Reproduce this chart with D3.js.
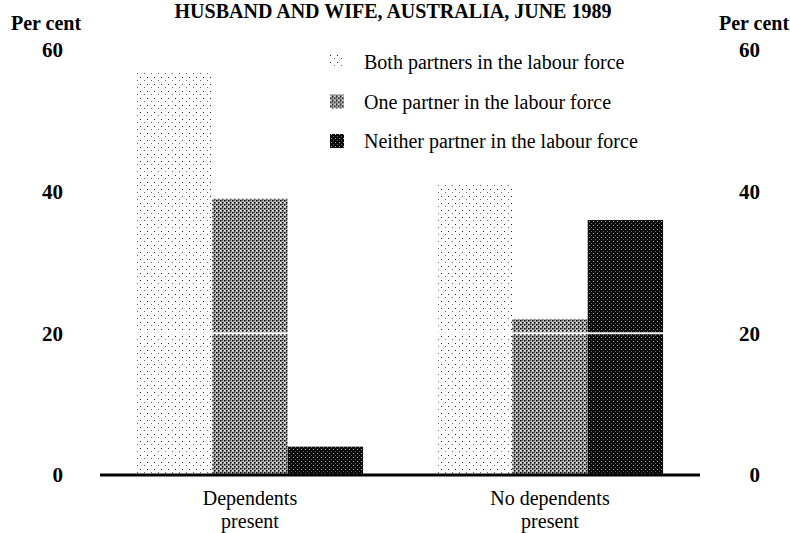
<!DOCTYPE html>
<html>
<head>
<meta charset="utf-8">
<script src="https://cdn.jsdelivr.net/npm/d3@7"></script>
<style>
  body { margin: 0; background: #fff; }
  text { font-family: "Liberation Serif", "Times New Roman", serif; fill: #000; }
</style>
</head>
<body>
<div id="chart"></div>
<script>
// values
var groups = ["Dependents present", "No dependents present"];
var series = ["Both partners in the labour force", "One partner in the labour force", "Neither partner in the labour force"];
var bothValues = [57, 41];
var oneValues = [39, 22];
var neitherValues = [4, 36];
var yTicks = [0, 20, 40, 60];

var width = 790, height = 533;
var plot = {left: 100, right: 700, top: 50, bottom: 475};

var svg = d3.select("#chart").append("svg")
    .attr("width", width)
    .attr("height", height);

// fill patterns standing in for the printed screens
var defs = svg.append("defs");

var pBoth = defs.append("pattern").attr("id", "p0")
    .attr("width", 7).attr("height", 7).attr("patternUnits", "userSpaceOnUse");
pBoth.append("rect").attr("width", 7).attr("height", 7).attr("fill", "#fff");
pBoth.append("rect").attr("x", 0).attr("y", 0).attr("width", 1).attr("height", 1).attr("fill", "#222");
pBoth.append("rect").attr("x", 4).attr("y", 3).attr("width", 1).attr("height", 1).attr("fill", "#666");

var pOne = defs.append("pattern").attr("id", "p1")
    .attr("width", 4).attr("height", 4).attr("patternUnits", "userSpaceOnUse");
pOne.append("rect").attr("width", 4).attr("height", 4).attr("fill", "#bbb");
pOne.append("rect").attr("x", 0).attr("y", 0).attr("width", 1.5).attr("height", 1.5).attr("fill", "#000");
pOne.append("rect").attr("x", 2).attr("y", 2).attr("width", 1.5).attr("height", 1.5).attr("fill", "#000");
pOne.append("rect").attr("x", 2).attr("y", 0).attr("width", 1).attr("height", 1).attr("fill", "#555");
pOne.append("rect").attr("x", 0).attr("y", 2).attr("width", 1).attr("height", 1).attr("fill", "#fff");

var pNeither = defs.append("pattern").attr("id", "p2")
    .attr("width", 4).attr("height", 4).attr("patternUnits", "userSpaceOnUse");
pNeither.append("rect").attr("width", 4).attr("height", 4).attr("fill", "#0a0a0a");
pNeither.append("rect").attr("x", 1).attr("y", 1).attr("width", 1).attr("height", 1).attr("fill", "#aaa");
pNeither.append("rect").attr("x", 3).attr("y", 3).attr("width", 1).attr("height", 1).attr("fill", "#666");

var fills = ["url(#p0)", "url(#p1)", "url(#p2)"];

var x0 = d3.scaleBand()
    .domain(groups)
    .range([plot.left, plot.right]);

var x1 = d3.scaleBand()
    .domain(series)
    .range([0, x0.bandwidth()])
    .paddingOuter(0.49);

var y = d3.scaleLinear()
    .domain([0, 60])
    .range([plot.bottom, plot.top]);

var table = [];
for (var i = 0; i < groups.length; i++) {
    table.push({group: groups[i], key: series[0], value: bothValues[i], idx: 0});
    table.push({group: groups[i], key: series[1], value: oneValues[i], idx: 1});
    table.push({group: groups[i], key: series[2], value: neitherValues[i], idx: 2});
}

// title sits right at the top edge
svg.append("text")
    .attr("x", 393)
    .attr("y", 18)
    .attr("text-anchor", "middle")
    .style("font-size", "20px")
    .style("font-weight", "bold")
    .text("HUSBAND AND WIFE, AUSTRALIA, JUNE 1989");

svg.selectAll(".bar")
    .data(table)
    .enter().append("rect")
    .attr("class", "bar")
    .attr("x", function(d) { return x0(d.group) + x1(d.key) })
    .attr("y", function(d) { return y(d.value) })
    .attr("width", x1.bandwidth())
    .attr("height", function(d) { return y(0) - y(d.value) })
    .attr("fill", function(d) { return fills[d.idx] });

// white rule at 20 across the bars
svg.append("line")
    .attr("x1", plot.left).attr("x2", plot.right)
    .attr("y1", y(20)).attr("y2", y(20))
    .attr("stroke", "#fff")
    .attr("stroke-width", 2);

// baseline
svg.append("line")
    .attr("x1", plot.left).attr("x2", plot.right)
    .attr("y1", y(0)).attr("y2", y(0))
    .attr("stroke", "#000")
    .attr("stroke-width", 3);

var leftAxis = svg.append("g")
    .attr("transform", "translate(63,0)")
    .call(d3.axisLeft(y).tickValues(yTicks).tickSize(0).tickPadding(0));
var rightAxis = svg.append("g")
    .attr("transform", "translate(760,0)")
    .call(d3.axisLeft(y).tickValues(yTicks).tickSize(0).tickPadding(0));

[leftAxis, rightAxis].forEach(function(ax) {
    ax.select(".domain").remove();
    ax.selectAll("text")
        .attr("font-family", null)
        .style("font-size", "21px")
        .style("font-weight", "bold");
});

svg.append("text")
    .attr("x", 46).attr("y", 30)
    .attr("text-anchor", "middle")
    .style("font-size", "20px")
    .style("font-weight", "bold")
    .text("Per cent");

svg.append("text")
    .attr("x", 754).attr("y", 30)
    .attr("text-anchor", "middle")
    .style("font-size", "20px")
    .style("font-weight", "bold")
    .text("Per cent");

// category labels, two lines each
groups.forEach(function(g) {
    var words = g.split(" ");
    var last = words.pop();
    var t = svg.append("text")
        .attr("text-anchor", "middle")
        .style("font-size", "20px");
    t.append("tspan")
        .attr("x", x0(g) + x0.bandwidth() / 2)
        .attr("y", 505)
        .text(words.join(" "));
    t.append("tspan")
        .attr("x", x0(g) + x0.bandwidth() / 2)
        .attr("y", 528)
        .text(last);
});

var legend = svg.selectAll(".legend")
    .data(series)
    .enter().append("g")
    .attr("class", "legend")
    .attr("transform", function(d, i) { return "translate(330," + (62 + i * 39.5) + ")" });

legend.append("rect")
    .attr("x", 0)
    .attr("y", -7)
    .attr("width", 14)
    .attr("height", 14)
    .attr("fill", function(d, i) { return fills[i] });

legend.append("text")
    .attr("x", 34)
    .attr("y", 0)
    .attr("dy", ".35em")
    .style("font-size", "20px")
    .text(function(d) { return d });
</script>
</body>
</html>
